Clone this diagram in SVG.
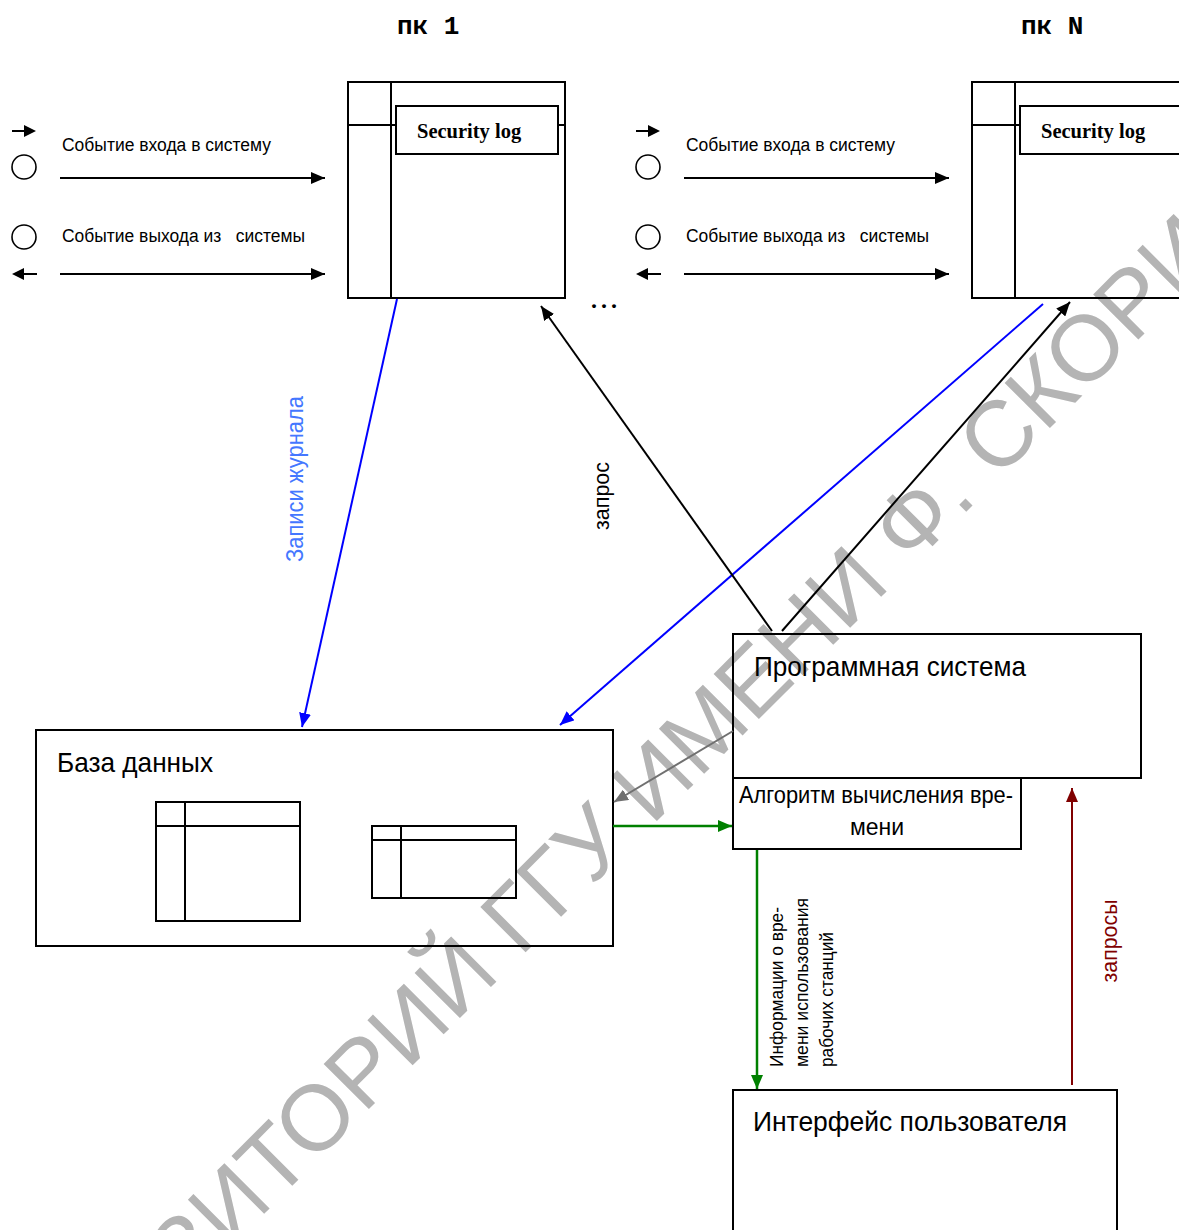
<svg xmlns="http://www.w3.org/2000/svg" width="1179" height="1230" viewBox="0 0 1179 1230">
<style>
.bg{fill:#ffffff}
.box{fill:none;stroke:#000;stroke-width:2}
.ln{stroke:#000;stroke-width:2;fill:none}
.thin{stroke:#000;stroke-width:1.6;fill:none}
.sans{font-family:"Liberation Sans",Arial,sans-serif;fill:#000}
.serifb{font-family:"Liberation Serif","Times New Roman",serif;font-weight:bold;fill:#000}
.mono{font-family:"Liberation Mono","Courier New",monospace;font-weight:bold;fill:#000}
.pre{white-space:pre}
.wm{font-family:"Liberation Sans",Arial,sans-serif;fill:#b4b4b4}
</style>
<defs>
<marker id="ak" markerUnits="userSpaceOnUse" viewBox="0 0 14 12" refX="14" refY="6" markerWidth="14" markerHeight="12" orient="auto"><path d="M0,0 L14,6 L0,12 z" fill="#000"/></marker>
<marker id="ab" markerUnits="userSpaceOnUse" viewBox="0 0 14 12" refX="14" refY="6" markerWidth="14" markerHeight="12" orient="auto"><path d="M0,0 L14,6 L0,12 z" fill="#0000ff"/></marker>
<marker id="ag" markerUnits="userSpaceOnUse" viewBox="0 0 14 12" refX="14" refY="6" markerWidth="14" markerHeight="12" orient="auto"><path d="M0,0 L14,6 L0,12 z" fill="#008000"/></marker>
<marker id="ay" markerUnits="userSpaceOnUse" viewBox="0 0 14 12" refX="14" refY="6" markerWidth="14" markerHeight="12" orient="auto"><path d="M0,0 L14,6 L0,12 z" fill="#707070"/></marker>
<marker id="ar" markerUnits="userSpaceOnUse" viewBox="0 0 14 12" refX="14" refY="6" markerWidth="14" markerHeight="12" orient="auto"><path d="M0,0 L14,6 L0,12 z" fill="#800000"/></marker>
<g id="legendShape">
<line class="ln" x1="12" y1="131" x2="25" y2="131"/>
<path d="M24,125 L36,131 L24,137 z" fill="#000"/>
<circle class="thin" cx="24" cy="167" r="12"/>
<text class="sans" x="62" y="151" font-size="18" textLength="209" lengthAdjust="spacingAndGlyphs">Событие входа в систему</text>
<circle class="thin" cx="24" cy="237" r="12"/>
<text class="sans pre" x="62" y="242" font-size="18" textLength="243" lengthAdjust="spacingAndGlyphs">Событие выхода из   системы</text>
<path d="M12,274 L24,268 L24,280 z" fill="#000"/>
<line class="ln" x1="23" y1="274" x2="37" y2="274"/>
</g>
</defs>
<rect class="bg" x="0" y="0" width="1179" height="1230"/>

<g id="watermark">
<text class="wm" transform="translate(2,1476) rotate(-45)" font-size="93">РЕПОЗИТОРИЙ ГГУ ИМЕНИ Ф. СКОРИНЫ</text>
</g>

<g id="label-pc1"><text class="mono" x="397" y="34" font-size="26">пк 1</text></g>
<g id="label-pcN"><text class="mono" x="1021" y="34" font-size="26">пк N</text></g>

<g id="legend-1"><use href="#legendShape"/></g>
<g id="legend-N" transform="translate(624,0)"><use href="#legendShape"/></g>

<g id="pc1">
<rect class="box" x="348" y="82" width="217" height="216"/>
<line class="ln" x1="391" y1="82" x2="391" y2="298"/>
<line class="ln" x1="348" y1="125" x2="396" y2="125"/>
<line class="ln" x1="558" y1="125" x2="565" y2="125"/>
<rect class="box" x="396" y="106" width="162" height="48"/>
<text class="serifb" x="417" y="138" font-size="20.5">Security log</text>
</g>

<g id="pcN">
<rect class="box" x="972" y="82" width="217" height="216"/>
<line class="ln" x1="1015" y1="82" x2="1015" y2="298"/>
<line class="ln" x1="972" y1="125" x2="1020" y2="125"/>
<rect class="box" x="1020" y="106" width="162" height="48"/>
<text class="serifb" x="1041" y="138" font-size="20.5">Security log</text>
</g>

<g id="dots"><text class="serifb" x="591" y="308" font-size="24" letter-spacing="4">...</text></g>

<g id="database">
<rect class="box" x="36" y="730" width="577" height="216"/>
<text class="sans" x="57" y="772" font-size="28" textLength="156" lengthAdjust="spacingAndGlyphs">База данных</text>
<rect class="box" x="156" y="802" width="144" height="119"/>
<line class="ln" x1="185" y1="802" x2="185" y2="921"/>
<line class="ln" x1="156" y1="826" x2="300" y2="826"/>
<rect class="box" x="372" y="826" width="144" height="72"/>
<line class="ln" x1="401" y1="826" x2="401" y2="898"/>
<line class="ln" x1="372" y1="840" x2="516" y2="840"/>
</g>

<g id="program-system">
<rect class="box" x="733" y="634" width="408" height="144"/>
<text class="sans" x="754" y="676" font-size="28" textLength="272" lengthAdjust="spacingAndGlyphs">Программная система</text>
</g>

<g id="algorithm">
<rect class="box" x="733" y="778" width="288" height="71"/>
<text class="sans" x="739" y="803" font-size="23" textLength="274" lengthAdjust="spacingAndGlyphs">Алгоритм вычисления вре-</text>
<text class="sans" x="877" y="835" font-size="23" text-anchor="middle">мени</text>
</g>

<g id="user-interface">
<rect class="box" x="733" y="1090" width="384" height="170"/>
<text class="sans" x="753" y="1131" font-size="28" textLength="314" lengthAdjust="spacingAndGlyphs">Интерфейс пользователя</text>
</g>

<g id="connectors">
<line class="ln" x1="60" y1="178" x2="325" y2="178" marker-end="url(#ak)"/>
<line class="ln" x1="60" y1="274" x2="325" y2="274" marker-end="url(#ak)"/>
<line class="ln" x1="684" y1="178" x2="949" y2="178" marker-end="url(#ak)"/>
<line class="ln" x1="684" y1="274" x2="949" y2="274" marker-end="url(#ak)"/>
<line x1="397" y1="299" x2="302" y2="727" stroke="#0000ff" stroke-width="2" marker-end="url(#ab)"/>
<line x1="1043" y1="304" x2="560" y2="725" stroke="#0000ff" stroke-width="2" marker-end="url(#ab)"/>
<line class="ln" x1="772" y1="631" x2="541" y2="306" marker-end="url(#ak)"/>
<line class="ln" x1="782" y1="631" x2="1070" y2="302" marker-end="url(#ak)"/>
<line x1="733" y1="731" x2="614" y2="802" stroke="#707070" stroke-width="2" marker-end="url(#ay)"/>
<line x1="613" y1="826" x2="732" y2="826" stroke="#008000" stroke-width="2.5" marker-end="url(#ag)"/>
<line x1="757" y1="850" x2="757" y2="1089" stroke="#008000" stroke-width="2.5" marker-end="url(#ag)"/>
<line x1="1072" y1="1085" x2="1072" y2="788" stroke="#800000" stroke-width="2" marker-end="url(#ar)"/>
<text class="sans" transform="translate(303,479) rotate(-90)" font-size="24" text-anchor="middle" textLength="166" lengthAdjust="spacingAndGlyphs" style="fill:#4477ff">Записи журнала</text>
<text class="sans" transform="translate(609,496) rotate(-90)" font-size="22" text-anchor="middle" textLength="68" lengthAdjust="spacingAndGlyphs">запрос</text>
<text class="sans" transform="translate(1117,941) rotate(-90)" font-size="22" text-anchor="middle" textLength="83" lengthAdjust="spacingAndGlyphs" style="fill:#800000">запросы</text>
<text class="sans" transform="translate(783,1067) rotate(-90)" font-size="19" textLength="160" lengthAdjust="spacingAndGlyphs">Информации о вре-</text>
<text class="sans" transform="translate(808,1067) rotate(-90)" font-size="19" textLength="169" lengthAdjust="spacingAndGlyphs">мени использования</text>
<text class="sans" transform="translate(833,1067) rotate(-90)" font-size="19" textLength="135" lengthAdjust="spacingAndGlyphs">рабочих станций</text>
</g>
</svg>
